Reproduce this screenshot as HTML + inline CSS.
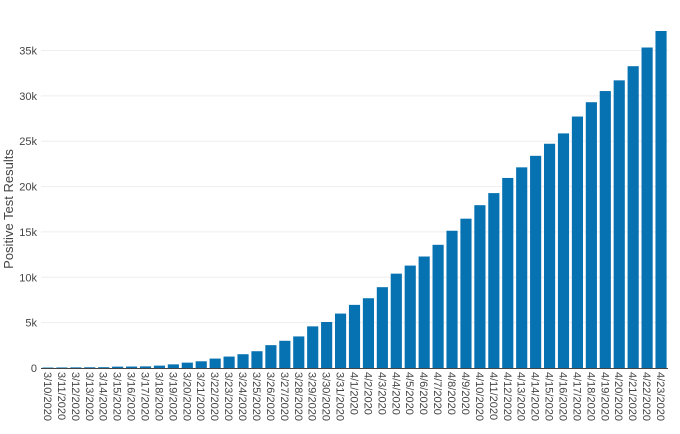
<!DOCTYPE html>
<html><head><meta charset="utf-8"><style>
body{margin:0;background:#fff;}
svg{display:block;font-family:"Liberation Sans",sans-serif;}
</style></head><body>
<svg id="chart" width="680" height="434">
<text transform="translate(13,209) rotate(-90)" text-anchor="middle" font-size="13" fill="#444">Positive Test Results</text>
<g id="grid"></g><g id="bars"></g><g id="xt"></g><g id="yt"></g>
</svg>
<script>
const categories = ["3/10/2020","3/11/2020","3/12/2020","3/13/2020","3/14/2020","3/15/2020","3/16/2020","3/17/2020","3/18/2020","3/19/2020","3/20/2020","3/21/2020","3/22/2020","3/23/2020","3/24/2020","3/25/2020","3/26/2020","3/27/2020","3/28/2020","3/29/2020","3/30/2020","3/31/2020","4/1/2020","4/2/2020","4/3/2020","4/4/2020","4/5/2020","4/6/2020","4/7/2020","4/8/2020","4/9/2020","4/10/2020","4/11/2020","4/12/2020","4/13/2020","4/14/2020","4/15/2020","4/16/2020","4/17/2020","4/18/2020","4/19/2020","4/20/2020","4/21/2020","4/22/2020","4/23/2020"];
const values = [50,60,70,80,90,150,160,180,260,400,590,740,1040,1260,1520,1850,2520,3000,3480,4590,5070,6000,6960,7690,8910,10400,11290,12290,13580,15130,16460,17950,19280,20950,22120,23390,24720,25860,27720,29300,30530,31710,33270,35330,37150];
const yTicks = [0,5000,10000,15000,20000,25000,30000,35000];
const yTickLabels = ["0","5k","10k","15k","20k","25k","30k","35k"];
const NS="http://www.w3.org/2000/svg";
const x0=41, x1=668, y0=368, yTop=50.5;
const step=(x1-x0)/categories.length;
const xs=i=>x0+step*(i+0.5);
const ys=v=>y0-(v/35000)*(y0-yTop);
function mk(t,a,p){const e=document.createElementNS(NS,t);for(const k in a)e.setAttribute(k,a[k]);document.getElementById(p).appendChild(e);return e;}
yTicks.forEach((t,i)=>{
  if(t>0){const l=mk('line',{x1:x0,x2:x1,y1:ys(t),y2:ys(t),stroke:'#eee','stroke-width':1},'grid');
  
  }
  const tx=mk('text',{x:x0-4,y:ys(t)+4,'text-anchor':'end','font-size':11,fill:'#444'},'yt');
  tx.textContent=yTickLabels[i];
  
  
});
values.forEach((v,i)=>{
  const bw=step*0.8;
  const r=mk('rect',{x:xs(i)-bw/2,y:ys(v),width:bw,height:y0-ys(v),fill:'#0772b1'},'bars');
  
  
  const tx=mk('text',{transform:`translate(${xs(i)-4},372) rotate(90)`,'font-size':11,fill:'#444'},'xt');
  tx.textContent=categories[i];
  
  
});
const ax=mk('line',{x1:x0,x2:x1,y1:y0+0.5,y2:y0+0.5,stroke:'#444','stroke-width':1},'grid');


</script>
</body></html>
